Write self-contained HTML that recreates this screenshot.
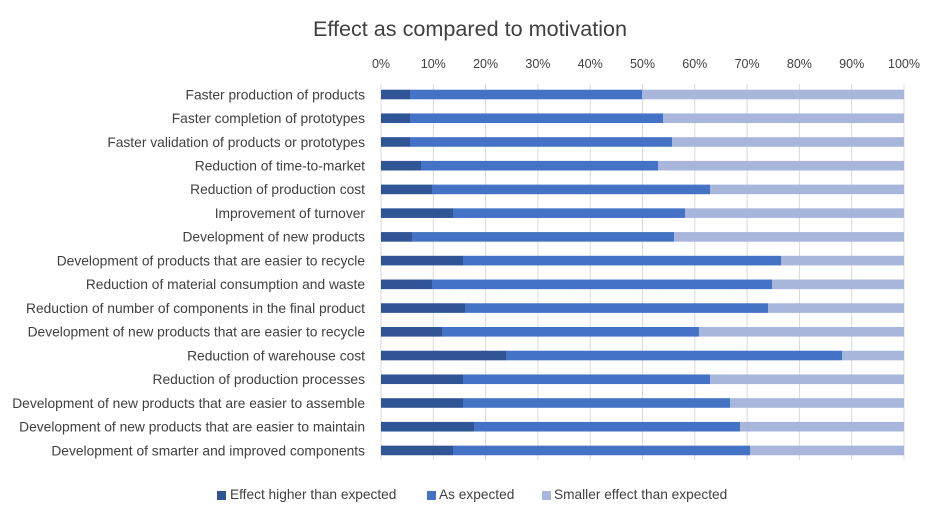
<!DOCTYPE html>
<html><head><meta charset="utf-8"><style>
body{margin:0;background:#fff}
svg text{font-family:"Liberation Sans",sans-serif;fill:#404040}
</style></head><body>
<svg width="941" height="520" xmlns="http://www.w3.org/2000/svg">
<text x="470" y="36" font-size="21.6" text-anchor="middle" fill="#595959">Effect as compared to motivation</text>
<g id="grid" stroke="#d9d9d9" stroke-width="1"></g>
<g id="ticks" font-size="12.5" text-anchor="middle"></g>
<g id="bars"></g>
<g id="labels" font-size="13.8" text-anchor="end"></g>
<rect x="217" y="491" width="9" height="9" fill="#2f5597"/>
<text x="230" y="499" font-size="13.7">Effect higher than expected</text>
<rect x="427" y="491" width="9" height="9" fill="#4472c4"/>
<text x="439" y="499" font-size="13.7">As expected</text>
<rect x="542" y="491" width="9" height="9" fill="#a9b6dc"/>
<text x="554" y="499" font-size="13.7">Smaller effect than expected</text>
</svg>
<script>
const ns="http://www.w3.org/2000/svg";
const x0=381,x1=904;
const rows=[
["Faster production of products",410,642],
["Faster completion of prototypes",410,663],
["Faster validation of products or prototypes",410,672],
["Reduction of time-to-market",421,658],
["Reduction of production cost",432,710],
["Improvement of turnover",453,685],
["Development of new products",412,674],
["Development of products that are easier to recycle",463,781],
["Reduction of material consumption and waste",432,772],
["Reduction of number of components in the final product",465,768],
["Development of new products that are easier to recycle",442,699],
["Reduction of warehouse cost",506,842],
["Reduction of production processes",463,710],
["Development of new products that are easier to assemble",463,730],
["Development of new products that are easier to maintain",474,740],
["Development of smarter and improved components",453,750]];
function el(t,a,p,txt){const e=document.createElementNS(ns,t);for(const k in a)e.setAttribute(k,a[k]);if(txt)e.textContent=txt;document.getElementById(p).appendChild(e);}
for(let i=0;i<=10;i++){const x=x0+(x1-x0)*i/10;el("line",{x1:x,x2:x,y1:84,y2:460},"grid");el("text",{x:x,y:68},"ticks",i*10+"%");}
rows.forEach((r,i)=>{const yc=94.5+i*23.73,y=yc-4.8;
el("rect",{x:x0,y:y,width:r[1]-x0,height:9.6,fill:"#2f5597"},"bars");
el("rect",{x:r[1],y:y,width:r[2]-r[1],height:9.6,fill:"#4472c4"},"bars");
el("rect",{x:r[2],y:y,width:x1-r[2],height:9.6,fill:"#a9b6dc"},"bars");
el("text",{x:365,y:yc+4.8},"labels",r[0]);});
</script>
</body></html>
